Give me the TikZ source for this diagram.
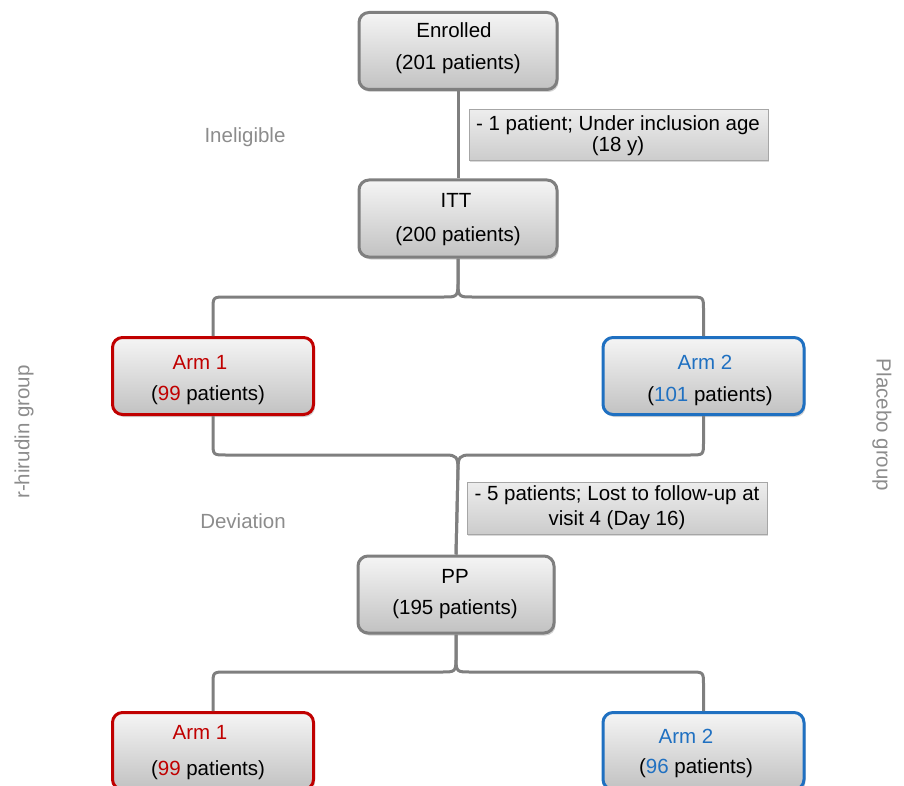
\documentclass[tikz,border=0pt]{standalone}
\usepackage{fontspec}
\setmainfont{Liberation Sans}
\usetikzlibrary{shadows}
\definecolor{armred}{HTML}{C00000}
\definecolor{armblue}{HTML}{1F70C1}
\definecolor{linegray}{HTML}{7F7F7F}
\definecolor{labgray}{HTML}{8C8C8C}
\tikzset{
  box/.style={draw=linegray, line width=3pt, rounded corners=10pt,
    top color=black!4, bottom color=black!24, inner sep=0pt,
    minimum width=198pt, minimum height=77pt,
    drop shadow={opacity=0.35, shadow xshift=1.5pt, shadow yshift=-2.5pt}},
  redbox/.style={box, draw=armred, minimum width=201pt},
  bluebox/.style={box, draw=armblue, minimum width=201pt},
  note/.style={draw=black!35, line width=0.8pt, top color=black!7, bottom color=black!20,
    inner sep=0pt, minimum width=299pt, minimum height=51pt,
    drop shadow={opacity=0.3, shadow xshift=1pt, shadow yshift=-1.5pt}},
  txt/.style={font=\fontsize{20.5}{24}\selectfont, inner sep=0pt, text=black},
  side/.style={txt, text=labgray},
  conn/.style={draw=linegray, line width=3pt, line join=round}
}
\begin{document}
\begin{tikzpicture}[x=1pt,y=-1pt]
\useasboundingbox (0,0) rectangle (904,786);
\clip (0,0) rectangle (904,786);
% boxes
\node[box] (enr) at (458,51) {};
\node[box] (itt) at (458,218.5) {};
\node[redbox] (a1) at (213,376) {};
\node[bluebox] (a2) at (703.5,376) {};
\node[box, minimum width=196pt] (pp) at (456,594.5) {};
\node[redbox] (b1) at (213,751) {};
\node[bluebox] (b2) at (703.5,751) {};
\node[note] (n1) at (618.5,135) {};
\node[note, minimum width=300pt, minimum height=52pt] (n2) at (617,508) {};
% connectors
\draw[conn] (enr.south) -- (itt.north);
\draw[conn] (itt.south) -- (458,284) .. controls (458,297) and (456,297) .. (444,297) -- (226,297) .. controls (213,297) .. (213,310) -- (a1.north);
\draw[conn] (itt.south) -- (458,284) .. controls (458,297) and (460,297) .. (472,297) -- (690,297) .. controls (703.5,297) .. (703.5,310) -- (a2.north);
\draw[conn] (a1.south) -- (213,442) .. controls (213,455) .. (226,455) -- (446,455) .. controls (456,455) and (458,457) .. (458,469) -- (pp.north);
\draw[conn] (a2.south) -- (703.5,442) .. controls (703.5,455) .. (690,455) -- (470,455) .. controls (460,455) and (458,457) .. (458,469) -- (pp.north);
\draw[conn] (pp.south) -- (456,660) .. controls (456,672) and (454,672) .. (442,672) -- (226,672) .. controls (213,672) .. (213,685) -- (b1.north);
\draw[conn] (pp.south) -- (456,660) .. controls (456,672) and (458,672) .. (470,672) -- (690,672) .. controls (703.5,672) .. (703.5,685) -- (b2.north);
% box texts
\node[txt] (t1) at (454,30) {Enrolled};
\node[txt] (t2) at (458,64) {(201 patients)};
\node[txt] (t3) at (456,200) {ITT};
\node[txt] (t4) at (458,236) {(200 patients)};
\node[txt, text=armred] (t5) at (200,362) {Arm 1};
\node[txt] (t6) at (208,395) {(\textcolor{armred}{99} patients)};
\node[txt, text=armblue] (t7) at (705,362) {Arm 2};
\node[txt] (t8) at (710,396) {(\textcolor{armblue}{101} patients)};
\node[txt] (t9) at (455,576) {PP};
\node[txt] (t10) at (455,609) {(195 patients)};
\node[txt, text=armred] (t11) at (200,732) {Arm 1};
\node[txt] (t12) at (208,770) {(\textcolor{armred}{99} patients)};
\node[txt, text=armblue] (t13) at (686,736) {Arm 2};
\node[txt] (t14) at (696,768) {(\textcolor{armblue}{96} patients)};
% notes
\node[txt] (n1a) at (618,125) {- 1 patient; Under inclusion age};
\node[txt] (n1b) at (618,146) {(18 y)};
\node[txt] (n2a) at (617,495) {- 5 patients; Lost to follow-up at};
\node[txt] (n2b) at (617,520) {visit 4 (Day 16)};
% side labels
\node[side] (inel) at (245,137) {Ineligible};
\node[side] (dev) at (243,521) {Deviation};
\node[side, rotate=90] (rh) at (24,432) {r-hirudin group};
\node[side, rotate=-90] (pl) at (882,425) {Placebo group};
\end{tikzpicture}
\end{document}
